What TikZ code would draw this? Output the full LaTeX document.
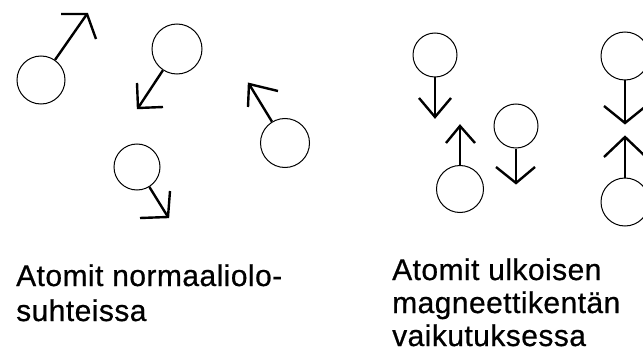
\documentclass[tikz,border=0pt]{standalone}
\usepackage{fontspec}
\setmainfont{Liberation Sans}[LetterSpace=1.5,FakeBold=0.6]
\begin{document}
\begin{tikzpicture}[x=1pt,y=-1pt,
  atom/.style={circle,draw,line width=1pt,inner sep=0pt},
  shaft/.style={line width=2.4pt},
  head/.style={line width=2.4pt,line join=miter},
  label/.style={anchor=base west,inner sep=0pt,align=left}]
\clip (0,0) rectangle (643,353);
\fill[white] (0,0) rectangle (643,353);
% left group
\node[atom,minimum size=48pt] (a1) at (41,80) {};
\coordinate (t1) at (87,14);
\draw[shaft] (a1) -- (t1);
\draw[head] (61,14) -- (t1) -- (96,39);

\node[atom,minimum size=50pt] (a2) at (177,49) {};
\coordinate (t2) at (138,108);
\draw[shaft] (a2) -- (t2);
\draw[head] (137,83) -- (t2) -- (163,107);

\node[atom,minimum size=49pt] (a3) at (285,143) {};
\coordinate (t3) at (249,84);
\draw[shaft] (a3) -- (t3);
\draw[head] (248,107) -- (t3) -- (278,91);

\node[atom,minimum size=46pt] (a4) at (137,167) {};
\coordinate (t4) at (168,217);
\draw[shaft] (a4) -- (t4);
\draw[head] (170,191) -- (t4) -- (140,218);

% right group
\node[atom,minimum size=44pt] (b1) at (435,55) {};
\coordinate (u1) at (435,117);
\draw[shaft] (b1) -- (u1);
\draw[head] (419,98) -- (u1) -- (451,98);

\node[atom,minimum size=47pt] (b2) at (460,189) {};
\coordinate (u2) at (460,126);
\draw[shaft] (b2) -- (u2);
\draw[head] (446,143) -- (u2) -- (475,143);

\node[atom,minimum size=44pt] (b3) at (516,126) {};
\coordinate (u3) at (516,183);
\draw[shaft] (b3) -- (u3);
\draw[head] (496,167) -- (u3) -- (535,167);

\node[atom,minimum size=48pt] (b4) at (625,56) {};
\coordinate (u4) at (625,123);
\draw[shaft] (b4) -- (u4);
\draw[head] (604,106) -- (u4) -- (646,106);

\node[atom,minimum size=48pt] (b5) at (625,202) {};
\coordinate (u5) at (625,137);
\draw[shaft] (b5) -- (u5);
\draw[head] (604,157) -- (u5) -- (646,157);

% labels (base anchor = baseline of last line)
\node[label,font=\fontsize{30}{35}\selectfont] (l1) at (16,321) {Atomit normaaliolo-\\suhteissa};
\node[label,font=\fontsize{30}{33}\selectfont] (l2) at (392,346) {Atomit ulkoisen\\magneettikentän\\vaikutuksessa};
\end{tikzpicture}
\end{document}
